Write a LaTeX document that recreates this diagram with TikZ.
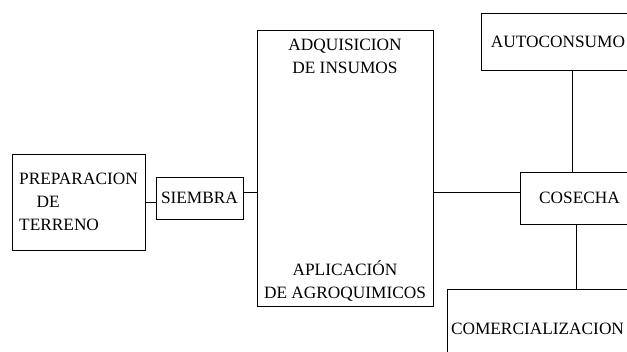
\documentclass[tikz,border=0pt]{standalone}
\usepackage{fontspec}
\setmainfont{Liberation Serif}
\tikzset{
  etapa/.style={draw, line width=.8pt, rectangle, inner sep=0pt},
  rotulo/.style={align=center, inner sep=0pt}
}
\begin{document}
\begin{tikzpicture}[x=1pt, y=-1pt, font=\fontsize{17.3}{22.8}\selectfont]
      \useasboundingbox (0,0) rectangle (627,352);
      \clip (0,0) rectangle (627,352);
        %%etapas
        \node[etapa, minimum width=133, minimum height=96, align=left] (prep) at (78.5, 202)
          {PREPARACION\\\hspace{1em}DE\\TERRENO};
        \node[etapa, minimum width=87, minimum height=42] (siembra) at (199.5, 198) {SIEMBRA};
        \node[etapa, minimum width=176, minimum height=276] (insumos) at (345, 168) {};
          \node[rotulo] (adq) at (345, 56) {ADQUISICION\\DE INSUMOS};
          \node[rotulo] (apl) at (345, 281) {APLICACIÓN\\DE AGROQUIMICOS};
        \node[etapa, minimum width=119, minimum height=52] (cosecha) at (579.5, 198) {COSECHA};
        \node[etapa, minimum width=154, minimum height=57] (autocons) at (558, 41.5) {AUTOCONSUMO};
        \node[etapa, minimum width=181, minimum height=80] (comerc) at (537.5, 329) {COMERCIALIZACION};

        %%uniones
        \coordinate (fila) at (0, 192);
        \coordinate (arriba) at (572, 0);
        \coordinate (abajo) at (576, 0);
      \draw[line width=.8pt] (prep.east) to (prep.east -| siembra.west);
      \draw[line width=.8pt] (siembra.east |- fila) to (insumos.west |- fila);
      \draw[line width=.8pt] (insumos.east |- fila) to (cosecha.west |- fila);
      \draw[line width=.8pt] (autocons.south -| arriba) to (cosecha.north -| arriba);
      \draw[line width=.8pt] (cosecha.south -| abajo) to (comerc.north -| abajo);
    \end{tikzpicture}
\end{document}
